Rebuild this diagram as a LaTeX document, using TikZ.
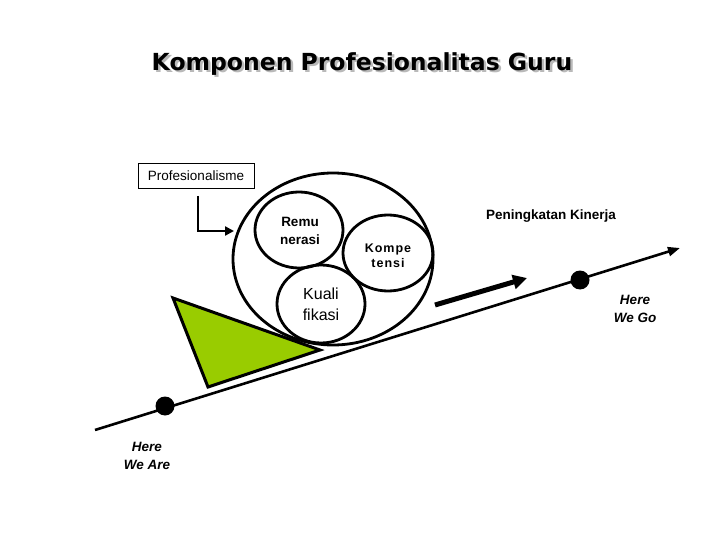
\documentclass[tikz,border=0pt]{standalone}
\usepackage{fontspec}
\setmainfont{Liberation Sans}
\newfontfamily\titlefont{DejaVu Sans}
\usetikzlibrary{arrows.meta}
\definecolor{lime}{HTML}{99CC00}
\begin{document}
\begin{tikzpicture}[x=1pt,y=-1pt,
  ring/.style={draw=black,line width=2.8pt},
  lbl/.style={align=center,inner sep=0pt,font=\bfseries\fontsize{13.5}{18}\selectfont},
  dotnode/.style={circle,fill=black,minimum size=19pt,inner sep=0pt}]
\useasboundingbox[fill=white] (0,0) rectangle (720,540);
% title
\node (shadow) [text=gray!55,inner sep=0pt] at (364.5,66.5) {\titlefont\bfseries\fontsize{23.5}{26}\selectfont Komponen Profesionalitas Guru};
\node (title) [inner sep=0pt] at (362,64) {\titlefont\bfseries\fontsize{23.5}{26}\selectfont Komponen Profesionalitas Guru};
% main line
\coordinate (s) at (95,430);
\coordinate (e) at (680,248);
\draw[line width=2.6pt,-{Triangle[length=12pt,width=9pt]}] (s) -- (e);
\node (d1) [dotnode] at (165,406) {};
\node (d2) [dotnode] at (580,280) {};
% triangle
\draw[line width=3pt,fill=lime,line join=miter] (173,298) -- (320,350) -- (208,387) -- cycle;
% thick arrow
\coordinate (ta) at (435,305);
\coordinate (tb) at (527,278);
\draw[line width=5pt,-{Triangle[length=14pt,width=14pt]}] (ta) -- (tb);
% ellipses
\draw[ring] (333,259) ellipse [x radius=100,y radius=86];
\draw[ring] (299,230) ellipse [x radius=44,y radius=38];
\draw[ring] (388,253) ellipse [x radius=45,y radius=38];
\draw[ring] (321,304) ellipse [x radius=44,y radius=39];
\node (rem) [lbl] at (300,231) {Remu\\nerasi};
\node (kom) [lbl,font=\bfseries\fontsize{12.5}{15}\selectfont] at (388,255.5) {\addfontfeature{LetterSpace=8}Kompe\\\addfontfeature{LetterSpace=8}tensi};
\node (kua) [lbl,font=\fontsize{16}{21}\selectfont] at (321,304) {Kuali\\fikasi};
% profesionalisme
\node (prof) [draw,line width=0.8pt,minimum width=116pt,minimum height=25pt,inner sep=0pt,font=\fontsize{13.5}{16}\selectfont] at (196,175.5) {Profesionalisme};
\coordinate (bend) at (198,231);
\coordinate (tip) at (234,231);
\draw[line width=2.8pt,-{Triangle[length=9pt,width=9pt]}] (198,196) -- (bend) -- (tip);
% other labels
\node (pk) [lbl] at (551,216) {Peningkatan Kinerja};
\node (go) [lbl,font=\bfseries\itshape\fontsize{13.5}{18}\selectfont] at (635,309) {Here\\We Go};
\node (are) [lbl,font=\bfseries\itshape\fontsize{13.5}{18}\selectfont] at (147,456) {Here\\We Are};
\end{tikzpicture}
\end{document}
